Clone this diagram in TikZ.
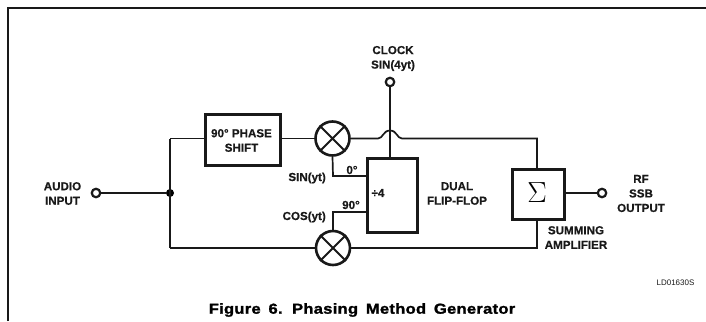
\documentclass[tikz,border=0pt]{standalone}
\usepackage{fontspec}
\setmainfont{Liberation Sans}[BoldFeatures={FakeBold=0.4}]
\newfontfamily\capfont[FakeStretch=1.14,LetterSpace=2,WordSpace=1.6,BoldFeatures={FakeBold=1.5}]{Liberation Sans}
\begin{document}
\begin{tikzpicture}[x=1pt,y=-1pt,
  wire/.style={line width=1.7pt,black!90},
  boxed/.style={draw=black!90,line width=2.6pt,fill=white,inner sep=0pt,anchor=north west},
  mixer/.style={circle,draw=black!90,line width=2.6pt,minimum size=34pt,inner sep=0pt,fill=white},
  term/.style={circle,draw=black!90,line width=2.2pt,minimum size=8.5pt,inner sep=0pt,fill=white},
  lab/.style={font=\fontsize{11.6pt}{14.5pt}\selectfont\bfseries,align=center,inner sep=0pt,text=black!90}]
\useasboundingbox (0,0) rectangle (706,321);
\fill[white] (0,0) rectangle (706,321);
\coordinate (fTL) at (8,8);
\coordinate (fTR) at (706,8);
\coordinate (fBL) at (8,321);
\draw[line width=1.5pt,black!90] (fBL) -- (fTL) -- (fTR);
\node[term] (in) at (96,193) {};
\node[circle,fill=black,minimum size=8pt,inner sep=0pt] (j) at (170,193) {};
\node[boxed,minimum width=75pt,minimum height=51pt] (ph) at (204,113) {};
\node[lab] at (241.5,140.5) {90° PHASE\\SHIFT};
\node[mixer] (mt) at (332.5,138.5) {};
\node[mixer] (mb) at (333,248) {};
\node[boxed,minimum width=50pt,minimum height=74pt] (div) at (366,157) {};
\node[term] (clk) at (390,82) {};
\node[boxed,minimum width=52pt,minimum height=50pt] (sum) at (511,168) {};
\node[font=\fontsize{24.88pt}{25pt}\selectfont,inner sep=0pt,scale=1.17] at (537,193) {$\Sigma$};
\node[term] (out) at (602,193) {};
\coordinate (tl) at (170,138.5);
\coordinate (bl) at (170,248);
\coordinate (h1) at (378,138.5);
\coordinate (h2) at (402,138.5);
\coordinate (tr) at (537,138.5);
\coordinate (br) at (537,248);
\coordinate (c0) at (333,176);
\coordinate (c90) at (333,212);
\draw[wire] (in) -- (j);
\draw[wire] (tl) -- (bl);
\draw[wire] (tl) -- (ph.west |- tl);
\draw[wire] (ph.east |- mt) -- (mt);
\draw[wire] (bl) -- (mb);
\draw[wire] (mt.east) -- (h1) .. controls (383,138.5) and (383,130.5) .. (390,130.5) .. controls (397,130.5) and (397,138.5) .. (h2) -- (tr) -- (sum.north -| tr);
\draw[wire] (mb.east) -- (br) -- (sum.south -| br);
\draw[wire] (clk) -- (div.north -| clk);
\draw[wire] (mt.south) -- (c0) -- (div.west |- c0);
\draw[wire] (mb.north) -- (c90) -- (div.west |- c90);
\draw[wire] (sum.east |- out) -- (out);
\foreach \m in {mt,mb}{
  \draw[line width=2pt,black!90] (\m.45) -- (\m.225) (\m.135) -- (\m.315);
}
\node[lab] at (393,58.5) {CLOCK\\SIN(4yt)};
\node[lab] at (62.5,193.5) {AUDIO\\INPUT};
\node[lab,anchor=east] at (326,178) {SIN(yt)};
\node[lab,anchor=east] at (326,217) {COS(yt)};
\node[lab] at (352,170) {0°};
\node[lab] at (351,205) {90°};
\node[lab] at (378,193) {÷4};
\node[lab] at (457,193.5) {DUAL\\FLIP-FLOP};
\node[lab] at (576,237.5) {SUMMING\\AMPLIFIER};
\node[lab] at (641,193.5) {RF\\SSB\\OUTPUT};
\node[font=\fontsize{8pt}{9pt}\selectfont,text=black!90,inner sep=0pt] at (675.5,283) {LD01630S};
\node[font=\fontsize{14.5pt}{16pt}\selectfont\capfont\bfseries,text=black,inner sep=0pt] at (362,310) {Figure 6. Phasing Method Generator};
\end{tikzpicture}
\end{document}
